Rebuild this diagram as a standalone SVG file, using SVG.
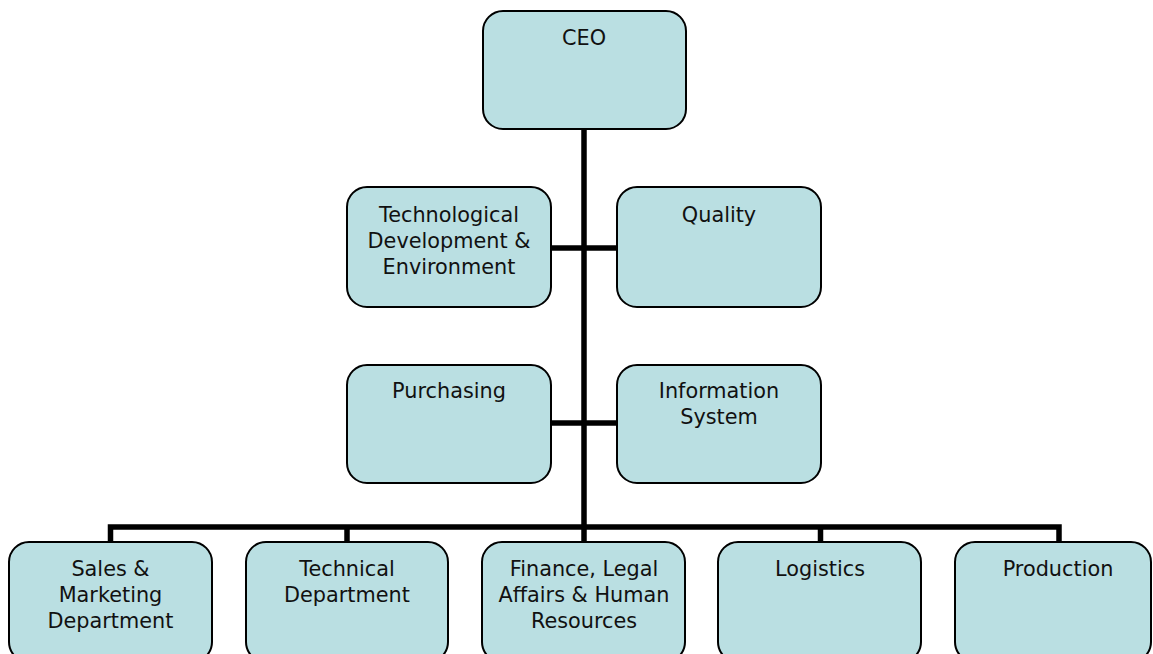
<svg xmlns="http://www.w3.org/2000/svg" width="1153" height="654" viewBox="0 0 1153 654">
<style>
.box{fill:#badfe2;stroke:#000;stroke-width:2}
.lbl{font-family:"DejaVu Sans",Verdana,sans-serif;font-size:20.8px;fill:#111;text-anchor:middle}
.con{stroke:#000;stroke-width:5.5;fill:none}
</style>
<rect width="1153" height="654" fill="#fff"/>
<g id="connectors">
<line class="con" x1="584" y1="129" x2="584" y2="527"/>
<line class="con" x1="551" y1="248" x2="617" y2="248"/>
<line class="con" x1="551" y1="423" x2="617" y2="423"/>
<polyline class="con" points="110.5,542 110.5,527 1059,527 1059,542"/>
<line class="con" x1="347" y1="527" x2="347" y2="542"/>
<line class="con" x1="584" y1="527" x2="584" y2="542"/>
<line class="con" x1="820.5" y1="527" x2="820.5" y2="542"/>
</g>
<g id="ceo"><rect class="box" x="483" y="11" width="203" height="118" rx="20"/><text class="lbl" x="584" y="45">CEO</text></g>
<g id="techdev"><rect class="box" x="347" y="187" width="204" height="120" rx="20"/><text class="lbl" x="449" y="222">Technological</text><text class="lbl" x="449" y="248">Development &amp;</text><text class="lbl" x="449" y="274">Environment</text></g>
<g id="quality"><rect class="box" x="617" y="187" width="204" height="120" rx="20"/><text class="lbl" x="719" y="222">Quality</text></g>
<g id="purchasing"><rect class="box" x="347" y="365" width="204" height="118" rx="20"/><text class="lbl" x="449" y="398">Purchasing</text></g>
<g id="infosys"><rect class="box" x="617" y="365" width="204" height="118" rx="20"/><text class="lbl" x="719" y="398">Information</text><text class="lbl" x="719" y="424">System</text></g>
<g id="sales"><rect class="box" x="9" y="542" width="203" height="120" rx="20"/><text class="lbl" x="110.5" y="576">Sales &amp;</text><text class="lbl" x="110.5" y="602">Marketing</text><text class="lbl" x="110.5" y="628">Department</text></g>
<g id="technical"><rect class="box" x="246" y="542" width="202" height="120" rx="20"/><text class="lbl" x="347" y="576">Technical</text><text class="lbl" x="347" y="602">Department</text></g>
<g id="finance"><rect class="box" x="482" y="542" width="203" height="120" rx="20"/><text class="lbl" x="584" y="576">Finance, Legal</text><text class="lbl" x="584" y="602">Affairs &amp; Human</text><text class="lbl" x="584" y="628">Resources</text></g>
<g id="logistics"><rect class="box" x="718" y="542" width="203" height="120" rx="20"/><text class="lbl" x="820" y="576">Logistics</text></g>
<g id="production"><rect class="box" x="955" y="542" width="196" height="120" rx="20"/><text class="lbl" x="1058" y="576">Production</text></g>
</svg>
